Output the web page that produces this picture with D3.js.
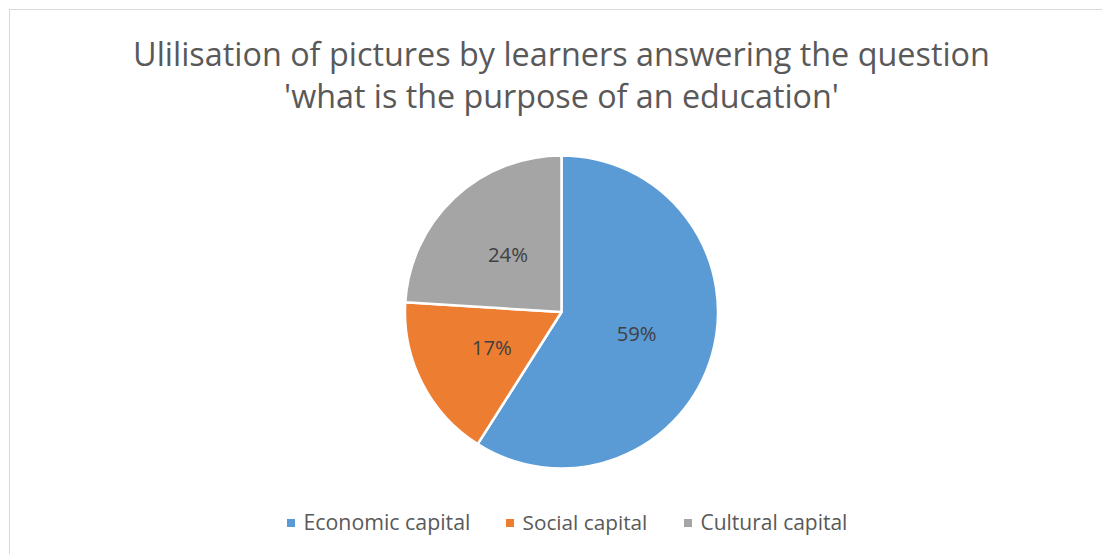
<!DOCTYPE html>
<html><head><meta charset="utf-8">
<script src="https://cdn.jsdelivr.net/npm/d3@7"></script>
<style>body{margin:0;background:#fff}svg{display:block}</style>
</head><body>
<svg id="c" width="1102" height="554"></svg>
<script>
const categories = ["Economic capital", "Social capital", "Cultural capital"];
const values = [59, 17, 24];
const colors = ["#5B9BD5", "#ED7D31", "#A5A5A5"];
const titleLines = ["Ulilisation of pictures by learners answering the question", "'what is the purpose of an education'"];

const svg = d3.select("#c");
const FONT = "'Open Sans', 'Noto Sans', sans-serif";

svg.append("rect").attr("x", 9.5).attr("y", 9.5).attr("width", 1100).attr("height", 560)
  .attr("fill", "#fff").attr("stroke", "#D9D9D9").attr("stroke-width", 1);

function fit(t, w) {
  const len = t.node().getComputedTextLength();
  const fs = parseFloat(t.attr("font-size"));
  t.attr("font-size", fs * w / len);
}

// title
const titleW = [857, 555];
const titleY = [66, 108];
titleLines.forEach((s, i) => {
  const t = svg.append("text").attr("x", 561.5).attr("y", titleY[i])
    .attr("text-anchor", "middle").attr("font-family", FONT).attr("font-size", 30)
    .attr("fill", "#595959").text(s);
  fit(t, titleW[i]);
});

// pie
const cx = 561.5, cy = 312, R = 156.5;
const pie = d3.pie().sort(null).value(d => d)(values);
const arc = d3.arc().innerRadius(0).outerRadius(R);
const labelArc = d3.arc().innerRadius(R * 0.5).outerRadius(R * 0.5);
const g = svg.append("g").attr("transform", `translate(${cx},${cy})`);
g.selectAll("path").data(pie).join("path")
  .attr("d", arc).attr("fill", (d, i) => colors[i])
  .attr("stroke", "#fff").attr("stroke-width", 2.5).attr("stroke-linejoin", "round");
g.selectAll("text").data(pie).join("text")
  .attr("transform", d => `translate(${labelArc.centroid(d)})`)
  .attr("text-anchor", "middle").attr("dy", "0.35em")
  .attr("font-family", FONT).attr("font-size", 18).attr("fill", "#404040")
  .text(d => d.value + "%")
  .each(function() { fit(d3.select(this), 40); });

// legend
const legX = [287, 506, 684];
const legW = [167, 125, 147];
categories.forEach((c, i) => {
  svg.append("rect").attr("x", legX[i]).attr("y", 519).attr("width", 8).attr("height", 8).attr("fill", colors[i]);
  const t = svg.append("text").attr("x", legX[i] + 16.5).attr("y", 530)
    .attr("font-family", FONT).attr("font-size", 18).attr("fill", "#595959").text(c);
  fit(t, legW[i]);
});
</script>
</body></html>
